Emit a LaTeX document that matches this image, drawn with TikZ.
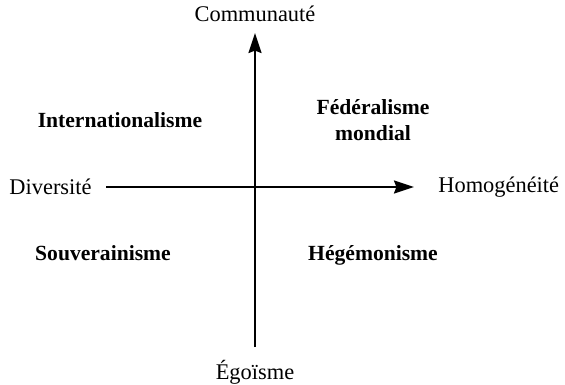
\documentclass[tikz,border=0pt]{standalone}
\usepackage{fontspec}
\setmainfont{Liberation Serif}
\usetikzlibrary{arrows.meta}

\tikzset{
  axis/.style={line width=1.1pt, -{Stealth[length=10pt,width=6.5pt,inset=1.2pt]}},
  pole/.style={font=\fontsize{11.2pt}{13pt}\selectfont, inner sep=0pt},
  quadrant/.style={font=\fontsize{10.8pt}{13pt}\selectfont\bfseries, align=center, inner sep=0pt}
}

\begin{document}
\begin{tikzpicture}[x=0.5pt,y=0.5pt]
		\useasboundingbox (-255,-197) rectangle (310,187);
		% axes
		\coordinate (S) at (0,-160);
		\coordinate (N) at (0,154);
		\coordinate (W) at (-149,0);
		\coordinate (E) at (159,0);
		\draw[axis] (S) -- (N);
		\draw[axis] (W) -- (E);
		% poles
		\node[pole] (comm) at (0,173) {Communauté};
		\node[pole] (ego) at (0,-185) {Égoïsme};
		\node[pole, anchor=east] (div) at (-163,0) {Diversité};
		\node[pole, anchor=west] (homo) at (183,0) {Homogénéité};
		% quadrants
		\node[quadrant] (inter) at (-135,67) {Internationalisme};
		\node[quadrant] (fede) at (118,67) {Fédéralisme\\mondial};
		\node[quadrant] (souv) at (-152,-66) {Souverainisme};
		\node[quadrant] (hege) at (118,-68) {Hégémonisme};
	\end{tikzpicture}
\end{document}
